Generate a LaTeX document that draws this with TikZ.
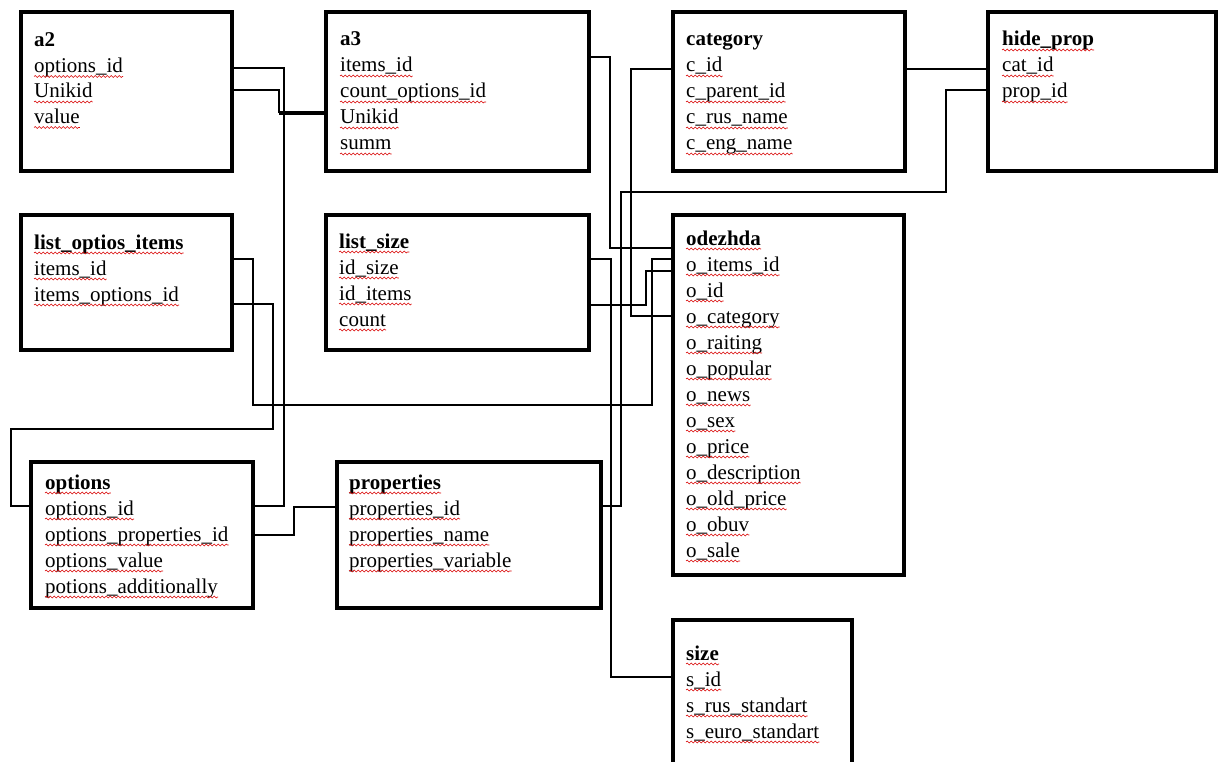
\documentclass[tikz,border=0pt]{standalone}
\usepackage{fontspec}
\setmainfont{Liberation Serif}
\usetikzlibrary{decorations.pathmorphing}
\tikzset{
  tbox/.style={draw, line width=4.2pt, rectangle, inner sep=0pt, outer sep=0pt},
  row/.style={anchor=base west, inner sep=0pt, font=\fontsize{21}{26}\selectfont},
  ttl/.style={row, font=\fontsize{21}{26}\selectfont\bfseries},
  wavy/.style={red!85!black, line width=0.6pt, decorate, decoration={snake, amplitude=0.9pt, segment length=4pt}},
  link/.style={line width=2.4pt},
}
% name, left, top, right, bottom
\newcommand\tablebox[5]{%
  \node[tbox, minimum width={#4-#2}, minimum height={#5-#3}] (#1) at ({(#2+#4)/2},{(#3+#5)/2}) {};}
% name, x, first baseline, spacing, title, rows
\newcommand\fieldrows[6]{%
  \node[ttl] (#1-t) at (#2,#3) {#5};
  \foreach \t [count=\i] in {#6} {
    \node[row] (#1-\i) at (#2,{#3+#4*\i}) {\t};
    \draw[wavy] ([yshift=-4pt]#1-\i.base west) -- ([yshift=-4pt]#1-\i.base east);
  }}
\newcommand\ulttl[1]{\draw[wavy] ([yshift=-4pt]#1-t.base west) -- ([yshift=-4pt]#1-t.base east);}
\begin{document}
\begin{tikzpicture}[x=1pt, y=-1pt]
\useasboundingbox (0,0) rectangle (1218,762);
\fill[white] (0,0) rectangle (1218,762);

% tables
\tablebox{a2}{21}{12}{232}{171}
\fieldrows{a2}{34}{47}{25.5}{a2}{options\_id, Unikid, value}
\tablebox{a3}{326}{12}{589}{171}
\fieldrows{a3}{340}{46}{26}{a3}{items\_id, count\_options\_id, Unikid, summ}
\tablebox{category}{673}{12}{905}{171}
\fieldrows{category}{686}{46}{26}{category}{c\_id, c\_parent\_id, c\_rus\_name, c\_eng\_name}
\tablebox{hide}{988}{12}{1216}{171}
\fieldrows{hide}{1002}{46}{26}{hide\_prop}{cat\_id, prop\_id}
\ulttl{hide}
\tablebox{loi}{21}{215}{232}{350}
\fieldrows{loi}{34}{249}{26}{list\_optios\_items}{items\_id, items\_options\_id}
\ulttl{loi}
\tablebox{ls}{326}{215}{589}{350}
\fieldrows{ls}{339}{248}{26}{list\_size}{id\_size, id\_items, count}
\ulttl{ls}
\tablebox{odezhda}{673}{215}{904}{575}
\fieldrows{odezhda}{686}{245}{26}{odezhda}{o\_items\_id, o\_id, o\_category, o\_raiting, o\_popular, o\_news, o\_sex, o\_price, o\_description, o\_old\_price, o\_obuv, o\_sale}
\ulttl{odezhda}
\tablebox{options}{31}{462}{253}{608}
\fieldrows{options}{45}{489}{26}{options}{options\_id, options\_properties\_id, options\_value, potions\_additionally}
\ulttl{options}
\tablebox{properties}{337}{462}{601}{608}
\fieldrows{properties}{349}{489}{26}{properties}{properties\_id, properties\_name, properties\_variable}
\ulttl{properties}
\tablebox{size}{673}{620}{852}{800}
\fieldrows{size}{686}{660}{26}{size}{s\_id, s\_rus\_standart, s\_euro\_standart}
\ulttl{size}

% connectors
\draw[link] (a2.east |- 0,68) -| (284,506) -- (options.east |- 0,506);
\draw[link] (a2.east |- 0,90) -| (279,113);
\draw[line width=3.4pt] (279,113) -- (a3.west |- 0,113);
\draw[link] (a3.east |- 0,57) -| (610,248) -- (odezhda.west |- 0,248);
\draw[link] (category.west |- 0,69) -| (631,316) -- (odezhda.west |- 0,316);
\draw[link] (category.east |- 0,69) -- (hide.west |- 0,69);
\draw[link] (hide.west |- 0,90) -| (946,192) -| (621,506) -- (properties.east |- 0,506);
\draw[link] (loi.east |- 0,259) -| (253,405) -| (652,259) -- (odezhda.west |- 0,259);
\draw[link] (ls.east |- 0,305) -| (646,271) -- (odezhda.west |- 0,271);
\draw[link] (ls.east |- 0,259) -| (611,677) -- (size.west |- 0,677);
\draw[link] (loi.east |- 0,304) -| (273,429) -| (11,506) -- (options.west |- 0,506);
\draw[link] (options.east |- 0,535) -| (294,507) -- (properties.west |- 0,507);
\end{tikzpicture}
\end{document}
